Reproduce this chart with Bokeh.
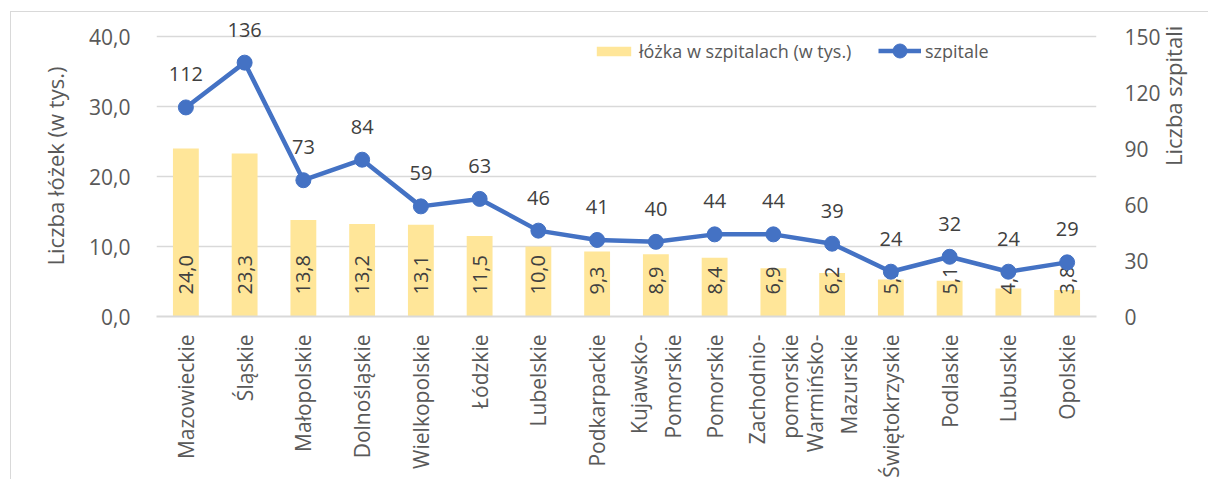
import math
from bokeh.plotting import figure
from bokeh.models import (FactorRange, Range1d, LinearAxis, ColumnDataSource, Legend,
                          LegendItem, CustomJSTickFormatter, FixedTicker)
from bokeh.core.properties import value
from bokeh.embed import file_html
from bokeh.resources import INLINE

# ---- data ----
regions = ["Mazowieckie", "Śląskie", "Małopolskie", "Dolnośląskie", "Wielkopolskie",
           "Łódzkie", "Lubelskie", "Podkarpackie", "Kujawsko-\nPomorskie", "Pomorskie",
           "Zachodnio-\npomorskie", "Warmińsko-\nMazurskie", "Świętokrzyskie", "Podlaskie",
           "Lubuskie", "Opolskie"]
beds_thousands = [24.0, 23.3, 13.8, 13.2, 13.1, 11.5, 10.0, 9.3, 8.9, 8.4, 6.9, 6.2, 5.3, 5.1, 4.0, 3.8]
hospitals = [112, 136, 73, 84, 59, 63, 46, 41, 40, 44, 44, 39, 24, 32, 24, 29]
left_ticks = [0, 10, 20, 30, 40]
right_ticks = [0, 30, 60, 90, 120, 150]
LEFT_MAX, RIGHT_MAX = 40, 150

FONT = "Open Sans"
TXT = "#595959"
LBL = "#404040"

src = ColumnDataSource(dict(
    x=regions,
    beds=beds_thousands,
    beds_lbl=[f"{v:.1f}".replace(".", ",") for v in beds_thousands],
    hosp=hospitals,
    hosp_lbl=[str(v) for v in hospitals],
))

# headroom above the top gridline so that the value labels are not clipped
HEAD = 1.075
p = figure(x_range=FactorRange(factors=regions, range_padding=0),
           y_range=Range1d(0, LEFT_MAX * HEAD),
           width=1198, height=468,
           output_backend="svg", toolbar_location=None,
           min_border_left=145, min_border_right=113,
           min_border_top=3, min_border_bottom=164)
p.margin = (11, 0, 0, 10)
p.styles = {"border-top": "1px solid #d9d9d9", "border-left": "1px solid #d9d9d9"}
p.outline_line_color = None
p.extra_y_ranges = {"h": Range1d(0, RIGHT_MAX * HEAD)}

# grid
p.xgrid.grid_line_color = None
p.ygrid.grid_line_color = "#d9d9d9"
p.ygrid.grid_line_width = 1.3
p.ygrid.ticker = FixedTicker(ticks=left_ticks)

# x axis
xa = p.xaxis[0]
xa.axis_line_color = "#d9d9d9"
xa.axis_line_width = 2
xa.major_tick_line_color = None
xa.minor_tick_line_color = None
xa.major_label_orientation = math.pi / 2
xa.major_label_standoff = 12
xa.major_label_text_font = FONT
xa.major_label_text_font_size = "21px"
xa.major_label_text_color = TXT
xa.major_label_text_line_height = 1.2

# left axis
ya = p.yaxis[0]
ya.ticker = FixedTicker(ticks=left_ticks)
ya.formatter = CustomJSTickFormatter(code="return tick.toFixed(1).replace('.', ',');")
ya.axis_line_color = None
ya.major_tick_line_color = None
ya.minor_tick_line_color = None
ya.major_label_standoff = 20
ya.major_label_text_font = FONT
ya.major_label_text_font_size = "21px"
ya.major_label_text_color = TXT
ya.axis_label = "Liczba łóżek (w tys.)"
ya.axis_label_text_font = FONT
ya.axis_label_text_font_style = "normal"
ya.axis_label_text_font_size = "22px"
ya.axis_label_text_color = TXT
ya.axis_label_standoff = 16

# right axis
ra = LinearAxis(y_range_name="h", ticker=FixedTicker(ticks=right_ticks))
ra.axis_line_color = None
ra.major_tick_line_color = None
ra.minor_tick_line_color = None
ra.major_label_standoff = 22
ra.major_label_text_font = FONT
ra.major_label_text_font_size = "21px"
ra.major_label_text_color = TXT
ra.axis_label = "Liczba szpitali"
ra.axis_label_orientation = math.pi / 2
ra.axis_label_text_font = FONT
ra.axis_label_text_font_style = "normal"
ra.axis_label_text_font_size = "22px"
ra.axis_label_text_color = TXT
ra.axis_label_standoff = 9
p.add_layout(ra, "right")

# bars
bars = p.vbar(x="x", top="beds", width=0.44, source=src, fill_color="#FFE699", line_color=None)
p.text(x="x", y=0, text="beds_lbl", source=src, angle=math.pi / 2,
       text_align="left", text_baseline="middle", y_offset=-22,
       text_font=value(FONT), text_font_size="20px", text_color=LBL)

# line
ln = p.line(x="x", y="hosp", source=src, y_range_name="h", line_color="#4472C4", line_width=4.5)
mk = p.scatter(x="x", y="hosp", source=src, y_range_name="h", size=15,
               fill_color="#4472C4", line_color="#4472C4")
p.text(x="x", y="hosp", text="hosp_lbl", source=src, y_range_name="h",
       text_align="center", text_baseline="middle", y_offset=-33,
       text_font=value(FONT), text_font_size="20px", text_color=LBL)

common = dict(orientation="horizontal", padding=0, margin=0, label_standoff=4,
              background_fill_alpha=0, border_line_alpha=0,
              label_text_font=FONT, label_text_font_size="18px", label_text_color=TXT)
leg_bar = Legend(items=[LegendItem(label="łóżka w szpitalach (w tys.)", renderers=[bars])],
                 location=(436, 253), glyph_width=43, glyph_height=12, **common)
leg_line = Legend(items=[LegendItem(label="szpitale", renderers=[ln, mk])],
                  location=(722, 248), glyph_width=43, glyph_height=35, **common)
p.add_layout(leg_bar)
p.add_layout(leg_line)

open("out.html", "w").write(file_html(p, INLINE))
